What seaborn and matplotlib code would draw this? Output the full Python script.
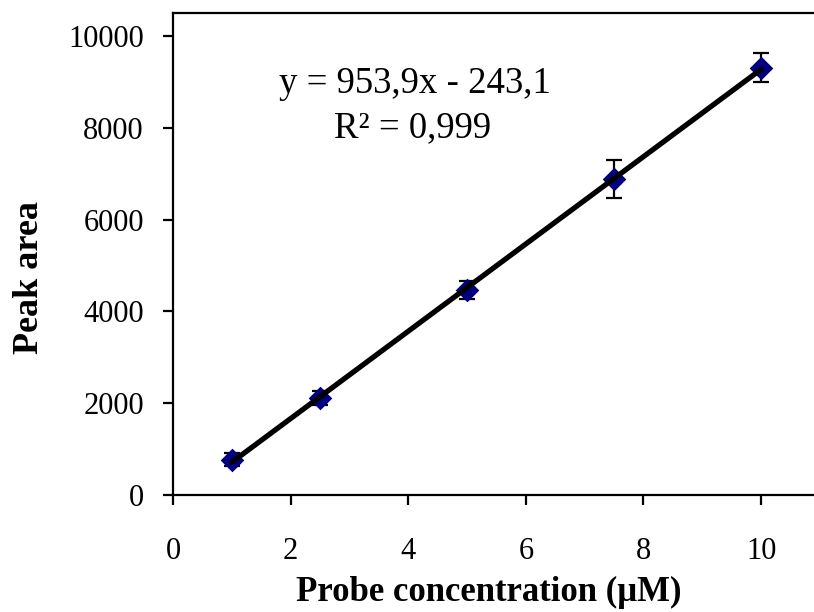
import numpy as np
import pandas as pd
import matplotlib.pyplot as plt
import seaborn as sns

# values
conc = [1, 2.5, 5, 7.5, 10]
peak_area = [770, 2110, 4470, 6880, 9310]
peak_err = [140, 150, 200, 410, 320]
y_ticks = [0, 2000, 4000, 6000, 8000, 10000]
x_ticks = [0, 2, 4, 6, 8, 10]
eq_text = "y = 953,9x - 243,1"
r2_text = "R\u00b2 = 0,999"

df = pd.DataFrame({"conc": conc, "area": peak_area, "err": peak_err})

sns.set_style("ticks")
plt.rcParams['font.family'] = ['Liberation Serif', 'DejaVu Serif']
plt.rcParams['text.color'] = 'black'
plt.rcParams['xtick.color'] = 'black'
plt.rcParams['ytick.color'] = 'black'
plt.rcParams['axes.labelcolor'] = 'black'

fig = plt.figure(figsize=(8.14, 6.12), dpi=100)
ax = fig.add_axes([173 / 814, 117 / 612, 1 - 173 / 814, 482 / 612])

# error bars first, then markers, then the trend line on top
ax.errorbar(df["conc"], df["area"], yerr=df["err"], fmt="none",
            ecolor="black", elinewidth=1.6, capsize=6, capthick=1.6, zorder=2)
sns.scatterplot(data=df, x="conc", y="area", marker="D", s=145,
                color="#000080", edgecolor="#000080", linewidth=0, ax=ax, zorder=3)
sns.regplot(data=df, x="conc", y="area", ci=None, scatter=False,
            line_kws={"color": "black", "linewidth": 3.8, "zorder": 4}, ax=ax)

ax.set_xlim(0, 10.9)
ax.set_ylim(0, 10500)
ax.set_xticks(x_ticks)
ax.set_yticks(y_ticks)
ax.set_xticklabels([str(t) for t in x_ticks], fontsize=22)
ax.set_yticklabels([str(t) for t in y_ticks], fontsize=22)
ax.tick_params(axis="x", direction="out", length=7, width=1.6, pad=23)
ax.tick_params(axis="y", direction="out", length=7, width=1.6, pad=14)

for side in ["left", "bottom", "top"]:
    ax.spines[side].set_linewidth(1.6)
    ax.spines[side].set_color("black")
ax.spines["right"].set_visible(False)

ax.set_xlabel("Probe concentration (\u03bcM)", fontsize=25, fontweight="bold",
              va="center")
ax.xaxis.set_label_coords(0.493, (495 - 592) / 482)
ax.set_ylabel("Peak area", fontsize=26, fontweight="bold", va="center")
ax.yaxis.set_label_coords((30 - 173) / 641, (495 - 278) / 482)

ax.text(4.12, 8960, eq_text, ha="center", va="center", fontsize=26.5)
ax.text(4.07, 7990, r2_text, ha="center", va="center", fontsize=26.5)

fig.savefig("out.png", dpi=100)
